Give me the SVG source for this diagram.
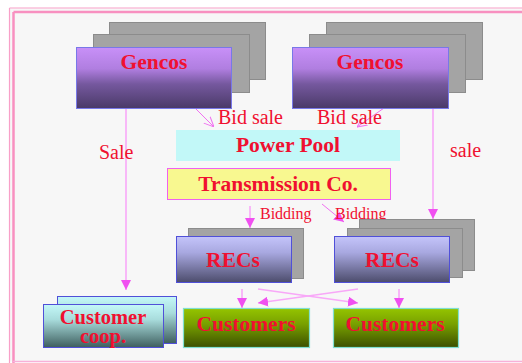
<svg xmlns="http://www.w3.org/2000/svg" width="522" height="363" viewBox="0 0 522 363">
  <defs>
    <linearGradient id="gPurple" x1="0" y1="0" x2="0" y2="1">
      <stop offset="0" stop-color="#c890f8"/>
      <stop offset="0.35" stop-color="#b07ee0"/>
      <stop offset="0.6" stop-color="#75589e"/>
      <stop offset="1" stop-color="#4a3a68"/>
    </linearGradient>
    <linearGradient id="gBlue" x1="0" y1="0" x2="0" y2="1">
      <stop offset="0" stop-color="#c4c4fa"/>
      <stop offset="0.35" stop-color="#a8a8e0"/>
      <stop offset="1" stop-color="#4c4c6c"/>
    </linearGradient>
    <linearGradient id="gCyan" x1="0" y1="0" x2="0" y2="1">
      <stop offset="0" stop-color="#c4f8f8"/>
      <stop offset="0.35" stop-color="#a8dcdc"/>
      <stop offset="1" stop-color="#3e5e5e"/>
    </linearGradient>
    <linearGradient id="gGreen" x1="0" y1="0" x2="0" y2="1">
      <stop offset="0" stop-color="#94c400"/>
      <stop offset="0.4" stop-color="#78a000"/>
      <stop offset="1" stop-color="#3c5000"/>
    </linearGradient>
    <marker id="tri" viewBox="0 0 10 10" refX="10" refY="5" markerWidth="10" markerHeight="10" markerUnits="userSpaceOnUse" orient="auto">
      <path d="M0,0 L10,5 L0,10 Z" fill="#f050f0"/>
    </marker>
    <marker id="vee" viewBox="0 0 10 10" refX="10" refY="5" markerWidth="10" markerHeight="10" markerUnits="userSpaceOnUse" orient="auto">
      <path d="M0,0.5 L10,5 L0,9.5" fill="none" stroke="#f070f0" stroke-width="1"/>
    </marker>
  </defs>
  <style>
    .shadow { fill: #a4a4a4; stroke: #8c8c8c; stroke-width: 1; }
    .bold { font-family: "Liberation Serif", "Times New Roman", serif; font-weight: bold; font-size: 21.5px; fill: #f01030; text-anchor: middle; }
    .coop { font-size: 20.5px; }
    .lbl { font-family: "Liberation Serif", "Times New Roman", serif; font-size: 20px; fill: #f01030; }
    .small { font-family: "Liberation Serif", "Times New Roman", serif; font-size: 16px; fill: #f01030; }
    .link { stroke: #f8a8f8; stroke-width: 1.6; fill: none; }
    .thin { stroke: #f070f0; stroke-width: 1; fill: none; }
  </style>

  <!-- page frame -->
  <rect x="0" y="0" width="522" height="363" fill="#ffffff"/>
  <rect x="10" y="8.5" width="520" height="353" fill="#f7f7f7"/>
  <line x1="9.5" y1="8" x2="522" y2="8" stroke="#f8a0c8" stroke-width="1.2"/>
  <line x1="9.5" y1="8" x2="9.5" y2="363" stroke="#f8a0c8" stroke-width="1.2"/>
  <line x1="13.5" y1="12" x2="522" y2="12" stroke="#f890c0" stroke-width="2.5"/>
  <line x1="13.5" y1="12" x2="13.5" y2="363" stroke="#f890c0" stroke-width="2.5"/>
  <line x1="13" y1="361.5" x2="522" y2="361.5" stroke="#f8b0d8" stroke-width="1.5"/>

  <!-- connectors -->
  <g id="connectors">
    <line class="link" x1="126" y1="108" x2="126" y2="290" marker-end="url(#tri)"/>
    <line class="link" x1="433" y1="108" x2="433" y2="219" marker-end="url(#tri)"/>
    <line class="thin" x1="195" y1="108" x2="214" y2="127" marker-end="url(#vee)"/>
    <line class="thin" x1="384" y1="108" x2="357" y2="127" marker-end="url(#vee)"/>
    <line class="link" x1="250" y1="206" x2="250" y2="228" marker-end="url(#tri)"/>
    <line class="thin" x1="322" y1="204" x2="344" y2="222" marker-end="url(#tri)"/>
    <line class="link" x1="242" y1="289" x2="242" y2="308" marker-end="url(#tri)"/>
    <line class="link" x1="399" y1="289" x2="399" y2="308" marker-end="url(#tri)"/>
    <line class="link" x1="258" y1="289" x2="358" y2="303" marker-end="url(#tri)"/>
    <line class="link" x1="358" y1="289" x2="258" y2="303" marker-end="url(#tri)"/>
  </g>

  <!-- generator companies -->
  <g id="gencos-left">
    <rect class="shadow" x="109.5" y="22.5" width="156" height="57"/>
    <rect class="shadow" x="93.5" y="34.5" width="156" height="58"/>
    <rect x="76.5" y="47.5" width="155" height="61" fill="url(#gPurple)" stroke="#7878e8" stroke-width="1"/>
    <text class="bold" x="154" y="69">Gencos</text>
  </g>
  <g id="gencos-right">
    <rect class="shadow" x="326.5" y="22.5" width="156" height="57"/>
    <rect class="shadow" x="309.5" y="34.5" width="156" height="58"/>
    <rect x="292.5" y="47.5" width="156" height="61" fill="url(#gPurple)" stroke="#7878e8" stroke-width="1"/>
    <text class="bold" x="370" y="69">Gencos</text>
  </g>

  <!-- labels -->
  <g id="labels">
    <text class="lbl" x="218" y="124">Bid sale</text>
    <text class="lbl" x="317" y="124">Bid sale</text>
    <text class="lbl" x="99" y="159">Sale</text>
    <text class="lbl" x="450" y="157">sale</text>
    <text class="small" x="260" y="219">Bidding</text>
    <text class="small" x="335" y="219">Bidding</text>
  </g>

  <g id="power-pool">
    <rect x="176" y="130" width="224" height="31" fill="#c2f8f8"/>
    <text class="bold" x="288" y="152">Power Pool</text>
  </g>

  <g id="transmission">
    <rect x="167.5" y="168.5" width="223" height="31" fill="#f8f890" stroke="#f060f0" stroke-width="1"/>
    <text class="bold" x="278" y="191">Transmission Co.</text>
  </g>

  <!-- regional electricity companies -->
  <g id="recs-left">
    <rect class="shadow" x="188.5" y="228.5" width="115" height="50"/>
    <rect x="176.5" y="236.5" width="115" height="46" fill="url(#gBlue)" stroke="#5050d8" stroke-width="1"/>
    <text class="bold" x="233" y="267">RECs</text>
  </g>
  <g id="recs-right">
    <rect class="shadow" x="359.5" y="219.5" width="115" height="51"/>
    <rect class="shadow" x="347.5" y="228.5" width="115" height="49"/>
    <rect x="334.5" y="236.5" width="115" height="46" fill="url(#gBlue)" stroke="#5050d8" stroke-width="1"/>
    <text class="bold" x="392" y="267">RECs</text>
  </g>

  <!-- customers -->
  <g id="customer-coop">
    <rect x="57.5" y="296.5" width="119" height="47" fill="url(#gCyan)" stroke="#5050d8" stroke-width="1"/>
    <rect x="43.5" y="304.5" width="120" height="43" fill="url(#gCyan)" stroke="#5050d8" stroke-width="1"/>
    <text class="bold coop" x="103" y="324">Customer</text>
    <text class="bold coop" x="103" y="343">coop.</text>
  </g>
  <g id="customers-left">
    <rect x="183.5" y="308.5" width="126" height="39" fill="url(#gGreen)" stroke="#80e0d0" stroke-width="1.2"/>
    <text class="bold" x="246" y="331">Customers</text>
  </g>
  <g id="customers-right">
    <rect x="333.5" y="308.5" width="125" height="39" fill="url(#gGreen)" stroke="#80e0d0" stroke-width="1.2"/>
    <text class="bold" x="395" y="331">Customers</text>
  </g>
</svg>
